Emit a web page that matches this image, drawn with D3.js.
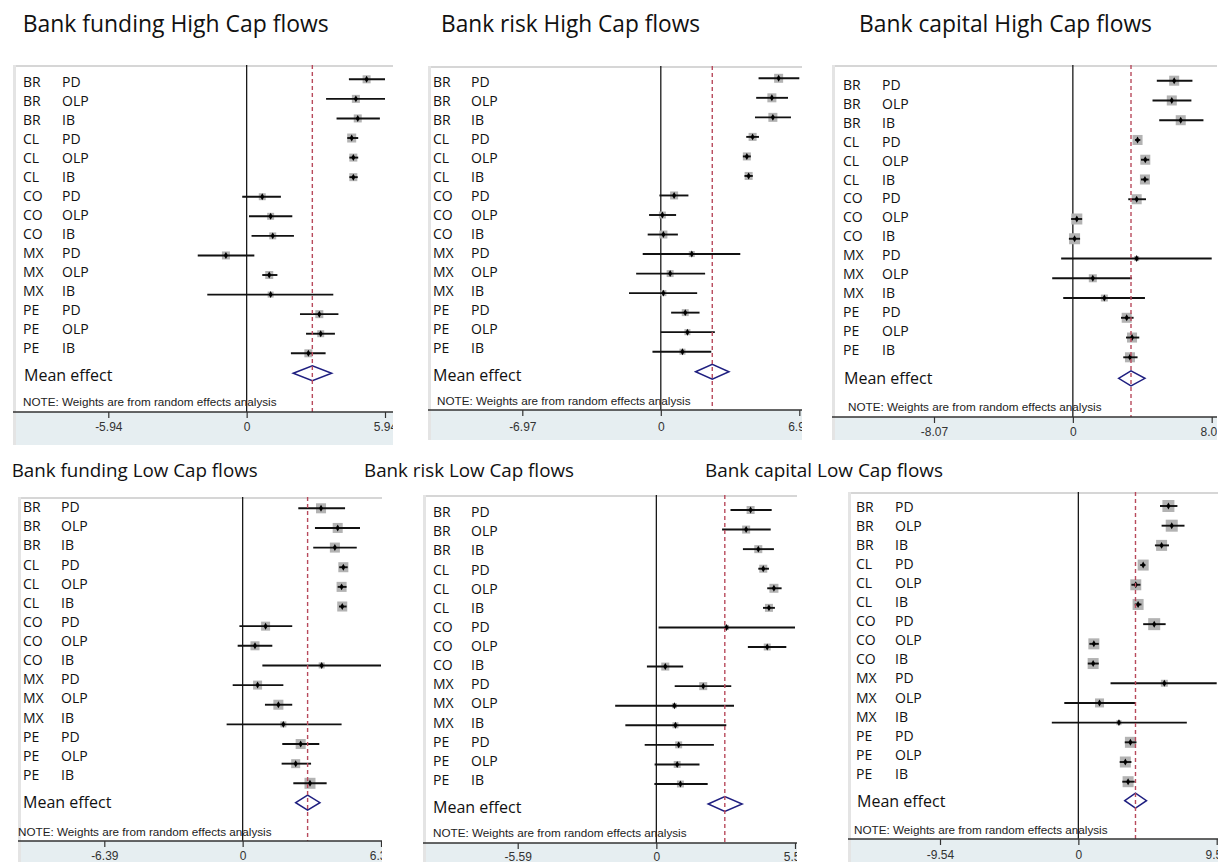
<!DOCTYPE html>
<html>
<head>
<meta charset="utf-8">
<script src="https://cdn.jsdelivr.net/npm/d3@7"></script>
<style>
  html, body { margin: 0; padding: 0; background: #ffffff; }
  svg { display: block; }
</style>
</head>
<body>
<svg id="chart" width="1218" height="862"></svg>
<script>
// ---- study rows (shared by all six forest plots) ----
const countries = ["BR","BR","BR","CL","CL","CL","CO","CO","CO","MX","MX","MX","PE","PE","PE"];
const channels  = ["PD","OLP","IB","PD","OLP","IB","PD","OLP","IB","PD","OLP","IB","PD","OLP","IB"];

const panelTitles = [
  "Bank funding High Cap flows", "Bank risk High Cap flows", "Bank capital High Cap flows",
  "Bank funding Low Cap flows", "Bank risk Low Cap flows", "Bank capital Low Cap flows"
];
const axisLimits = [5.94, 6.97, 8.07, 6.39, 5.59, 9.54];
const meanLabel = "Mean effect";
const noteText = "NOTE: Weights are from random effects analysis";

// ---- Bank funding, High Cap ----
const fundHighEst = [5.15, 4.69, 4.77, 4.51, 4.58, 4.58, 0.67, 1.03, 1.12, -0.89, 0.97, 1.03, 3.12, 3.18, 2.65];
const fundHighLo  = [4.39, 3.41, 3.86, 4.32, 4.41, 4.41, -0.19, 0.10, 0.21, -2.10, 0.67, -1.69, 2.29, 2.55, 1.90];
const fundHighHi  = [5.94, 5.94, 5.72, 4.79, 4.79, 4.77, 1.47, 1.96, 2.03, 0.33, 1.32, 3.72, 3.94, 3.79, 3.39];
const fundHighWt  = [5.3, 5.3, 5.3, 6.7, 5.3, 5.3, 4.0, 4.0, 4.0, 5.3, 5.3, 3.0, 5.3, 4.0, 5.3];
const fundHighMean = [2.00, 2.82, 3.65];

// ---- Bank risk, High Cap ----
const riskHighEst = [5.93, 5.59, 5.64, 4.62, 4.33, 4.42, 0.67, 0.08, 0.13, 1.56, 0.47, 0.13, 1.23, 1.34, 1.09];
const riskHighLo  = [4.92, 4.80, 4.74, 4.30, 4.13, 4.21, -0.07, -0.59, -0.66, -0.91, -1.24, -1.60, 0.52, 0.00, -0.42];
const riskHighHi  = [6.97, 6.40, 6.55, 4.94, 4.53, 4.63, 1.39, 0.77, 0.86, 4.00, 2.23, 1.83, 1.95, 2.72, 2.54];
const riskHighWt  = [6.7, 6.7, 6.7, 5.3, 5.3, 5.3, 5.3, 4.0, 5.3, 3.0, 4.0, 3.0, 4.0, 3.0, 3.0];
const riskHighMean = [1.75, 2.59, 3.43];

// ---- Bank capital, High Cap ----
const capHighEst = [5.89, 5.75, 6.27, 3.76, 4.21, 4.19, 3.71, 0.23, 0.10, 3.71, 1.16, 1.83, 3.13, 3.44, 3.32];
const capHighLo  = [4.88, 4.63, 5.02, 3.61, 3.96, 3.96, 3.22, -0.10, -0.23, -0.68, -1.20, -0.56, 2.80, 3.09, 2.93];
const capHighHi  = [6.95, 6.89, 7.59, 3.92, 4.44, 4.40, 4.25, 0.54, 0.42, 8.07, 3.44, 4.19, 3.53, 3.86, 3.76];
const capHighWt  = [8.3, 8.3, 8.3, 8.3, 8.3, 8.3, 8.3, 10, 10, 2.1, 5.3, 4.0, 8.3, 8.3, 8.3];
const capHighMean = [2.66, 3.38, 4.19];

// ---- Bank funding, Low Cap ----
const fundLowEst = [3.62, 4.39, 4.26, 4.65, 4.57, 4.60, 1.06, 0.57, 3.65, 0.69, 1.65, 1.88, 2.68, 2.45, 3.11];
const fundLowLo  = [2.57, 3.34, 3.26, 4.46, 4.39, 4.45, -0.15, -0.23, 0.91, -0.46, 1.03, -0.74, 1.83, 1.80, 2.34];
const fundLowHi  = [4.73, 5.42, 5.27, 4.85, 4.80, 4.80, 2.29, 1.37, 6.39, 1.88, 2.29, 4.57, 3.54, 3.16, 3.88];
const fundLowWt  = [8.3, 8.3, 8.3, 8.3, 8.3, 8.3, 6.7, 6.7, 3.0, 6.7, 8.3, 3.0, 8.3, 6.7, 10];
const fundLowMean = [2.45, 3.00, 3.57];

// ---- Bank risk, Low Cap ----
const riskLowEst = [3.80, 3.62, 4.11, 4.31, 4.74, 4.54, 2.83, 4.47, 0.36, 1.89, 0.73, 0.77, 0.90, 0.84, 0.97];
const riskLowLo  = [2.99, 2.65, 3.49, 4.11, 4.47, 4.30, 0.09, 3.69, -0.38, 0.74, -1.66, -1.25, -0.47, -0.07, -0.08];
const riskLowHi  = [4.65, 4.61, 4.74, 4.54, 5.05, 4.78, 5.59, 5.24, 1.08, 3.02, 3.13, 2.82, 2.32, 1.74, 2.07];
const riskLowWt  = [5.3, 5.3, 5.3, 5.3, 6.7, 5.3, 2.1, 4.0, 5.3, 5.3, 2.1, 3.0, 4.0, 4.0, 4.0];
const riskLowMean = [2.09, 2.76, 3.46];

// ---- Bank capital, Low Cap ----
const capLowEst = [6.21, 6.44, 5.74, 4.47, 3.96, 4.12, 5.23, 1.07, 1.02, 5.93, 1.46, 2.80, 3.59, 3.24, 3.43];
const capLowLo  = [5.63, 5.74, 5.28, 4.26, 3.66, 3.89, 4.47, 0.76, 0.65, 2.22, -0.97, -1.83, 3.20, 2.85, 3.03];
const capLowHi  = [6.83, 7.32, 6.25, 4.63, 4.28, 4.35, 6.02, 1.41, 1.41, 9.54, 3.96, 7.48, 4.01, 3.66, 3.89];
const capLowWt  = [11.9, 11.9, 10, 10, 10, 10, 11.9, 10, 10, 4.0, 6.7, 2.1, 10, 10, 10];
const capLowMean = [3.20, 3.94, 4.70];

const panelData = [
  { est: fundHighEst, lo: fundHighLo, hi: fundHighHi, wt: fundHighWt, mean: fundHighMean },
  { est: riskHighEst, lo: riskHighLo, hi: riskHighHi, wt: riskHighWt, mean: riskHighMean },
  { est: capHighEst,  lo: capHighLo,  hi: capHighHi,  wt: capHighWt,  mean: capHighMean },
  { est: fundLowEst,  lo: fundLowLo,  hi: fundLowHi,  wt: fundLowWt,  mean: fundLowMean },
  { est: riskLowEst,  lo: riskLowLo,  hi: riskLowHi,  wt: riskLowWt,  mean: riskLowMean },
  { est: capLowEst,   lo: capLowLo,   hi: capLowHi,   wt: capLowWt,   mean: capLowMean }
];

// ---- page geometry of each plot ----
const layout = [
  { left: 13,  right: 393,  top: 65,  axisY: 412, bottom: 445, xr: [108.3, 385],   mark: [79.3, 353.3], lab: [81.7, 348.3], meanY: 373.3, meanLabY: 375,   cx: 23,  tx: 62,  mx: 24,  noteX: 23,  noteY: 406, tickY: 431, titleX: 22.7, titleY: 32,  titleW: 306, titleSize: 23 },
  { left: 428, right: 802,  top: 66,  axisY: 410, bottom: 440, xr: [522.3, 799.3], mark: [78.3, 351.7], lab: [82.3, 348.3], meanY: 371.7, meanLabY: 375,   cx: 433, tx: 471, mx: 433, noteX: 437, noteY: 405, tickY: 431, titleX: 441,  titleY: 32,  titleW: 259, titleSize: 23 },
  { left: 832, right: 1217, top: 65,  axisY: 417, bottom: 440, xr: [934, 1211.7],  mark: [80.7, 357.3], lab: [85, 350],     meanY: 378.3, meanLabY: 378,   cx: 843, tx: 882, mx: 844, noteX: 848, noteY: 411, tickY: 436, titleX: 859,  titleY: 32,  titleW: 293, titleSize: 23 },
  { left: 18,  right: 382,  top: 497, axisY: 841, bottom: 862, xr: [104.3, 381],   mark: [508.3, 783.3], lab: [507.3, 775], meanY: 802.7, meanLabY: 802,   cx: 23,  tx: 61,  mx: 23,  noteX: 18,  noteY: 836, tickY: 860, titleX: 11.7, titleY: 477, titleW: 246, titleSize: 19 },
  { left: 423, right: 797,  top: 495, axisY: 843, bottom: 862, xr: [517.7, 795],   mark: [510, 784],     lab: [512.3, 780], meanY: 804,   meanLabY: 807,   cx: 433, tx: 471, mx: 433, noteX: 433, noteY: 837, tickY: 860.5, titleX: 364,  titleY: 477, titleW: 210, titleSize: 19 },
  { left: 848, right: 1218, top: 492, axisY: 839, bottom: 862, xr: [940, 1216.7],  mark: [506, 781.7],   lab: [506.7, 774], meanY: 800.7, meanLabY: 801.7, cx: 856, tx: 895, mx: 857, noteX: 854, noteY: 834, tickY: 859, titleX: 705,  titleY: 477, titleW: 238, titleSize: 19 }
];

const svg = d3.select("#chart");
const defs = svg.append("defs");
const blur = defs.append("filter").attr("id", "soft").attr("x", "-30%").attr("y", "-30%").attr("width", "160%").attr("height", "160%");
blur.append("feGaussianBlur").attr("stdDeviation", 0.6);

const boxSize = d3.scaleSqrt().domain([0, 10]).range([0, 11]);
const textFont = "'Open Sans', 'Noto Sans', sans-serif";
const axisFont = "'Liberation Sans', Arial, sans-serif";
const tickFmt = d3.format(".2f");

panelTitles.forEach((title, p) => {
  const L = layout[p];
  const D = panelData[p];
  const m = axisLimits[p];

  // plot title
  svg.append("text")
    .attr("x", L.titleX).attr("y", L.titleY)
    .attr("font-family", textFont).attr("font-size", L.titleSize)
    .attr("fill", "#111")
    .attr("textLength", L.titleW).attr("lengthAdjust", "spacingAndGlyphs")
    .text(title);

  const clipId = "clip" + p;
  defs.append("clipPath").attr("id", clipId)
    .append("rect")
    .attr("x", L.left).attr("y", L.top - 2)
    .attr("width", L.right - L.left).attr("height", L.bottom - L.top + 2);

  const g = svg.append("g").attr("clip-path", `url(#${clipId})`);

  const x = d3.scaleLinear().domain([-m, m]).range(L.xr);
  const yMark = d3.scaleLinear().domain([0, countries.length - 1]).range(L.mark);
  const yLab = d3.scaleLinear().domain([0, countries.length - 1]).range(L.lab);

  // plot region and the shaded strip under the axis
  g.append("rect").attr("x", L.left).attr("y", L.top)
    .attr("width", L.right - L.left).attr("height", L.axisY - L.top).attr("fill", "#ffffff");
  g.append("rect").attr("x", L.left).attr("y", L.axisY)
    .attr("width", L.right - L.left).attr("height", L.bottom - L.axisY).attr("fill", "#e6eef1");
  g.append("line").attr("x1", L.left).attr("x2", L.right).attr("y1", L.top + 1).attr("y2", L.top + 1)
    .attr("stroke", "#d6d6d6").attr("stroke-width", 2);
  g.append("line").attr("x1", L.left + 1.5).attr("x2", L.left + 1.5).attr("y1", L.top).attr("y2", L.bottom)
    .attr("stroke", "#e4e4e4").attr("stroke-width", 3);

  // no-effect line
  g.append("line")
    .attr("x1", x(0)).attr("x2", x(0)).attr("y1", L.top).attr("y2", L.axisY)
    .attr("stroke", "#1a1a1a").attr("stroke-width", 1.3);

  // weight boxes
  g.append("g").attr("filter", "url(#soft)")
    .selectAll("rect").data(D.est).join("rect")
    .attr("x", (d, i) => x(d) - boxSize(D.wt[i]) / 2)
    .attr("y", (d, i) => yMark(i) - boxSize(D.wt[i]) / 2)
    .attr("width", (d, i) => boxSize(D.wt[i]))
    .attr("height", (d, i) => boxSize(D.wt[i]))
    .attr("fill", "#b3b3b3");

  // confidence intervals
  g.append("g").selectAll("line").data(D.est).join("line")
    .attr("x1", (d, i) => x(Math.max(-m, D.lo[i])))
    .attr("x2", (d, i) => x(Math.min(m, D.hi[i])))
    .attr("y1", (d, i) => yMark(i)).attr("y2", (d, i) => yMark(i))
    .attr("stroke", "#111").attr("stroke-width", 1.9);

  // point estimates
  g.append("g").selectAll("path").data(D.est).join("path")
    .attr("d", d3.symbol(d3.symbolDiamond, 14))
    .attr("transform", (d, i) => `translate(${x(d)},${yMark(i)})`)
    .attr("fill", "#000");

  // pooled (mean) effect diamond
  const [mlo, mest, mhi] = D.mean;
  g.append("path")
    .attr("d", `M${x(mlo)},${L.meanY} L${x(mest)},${L.meanY - 7.5} L${x(mhi)},${L.meanY} L${x(mest)},${L.meanY + 7.5} Z`)
    .attr("fill", "none").attr("stroke", "#1f1f80").attr("stroke-width", 1.5);

  // pooled effect reference line
  g.append("line")
    .attr("x1", x(mest)).attr("x2", x(mest)).attr("y1", L.top).attr("y2", L.axisY)
    .attr("stroke", "#b84a5c").attr("stroke-width", 1.4).attr("stroke-dasharray", "4,3");

  // row labels
  const labels = g.append("g").attr("font-family", textFont).attr("font-size", 14).attr("fill", "#111");
  labels.selectAll("text.ctry").data(countries).join("text").attr("class", "ctry")
    .attr("x", L.cx).attr("y", (d, i) => yLab(i)).attr("dy", "0.35em").text(d => d);
  labels.selectAll("text.chan").data(channels).join("text").attr("class", "chan")
    .attr("x", L.tx).attr("y", (d, i) => yLab(i)).attr("dy", "0.35em").text(d => d);

  g.append("text")
    .attr("x", L.mx).attr("y", L.meanLabY).attr("dy", "0.35em")
    .attr("font-family", textFont).attr("font-size", 16).attr("fill", "#111")
    .text(meanLabel);

  g.append("text")
    .attr("x", L.noteX).attr("y", L.noteY)
    .attr("font-family", axisFont).attr("font-size", 11.7).attr("fill", "#222")
    .text(noteText);

  // x axis: limits and zero, written with a plain hyphen for negatives
  const axis = d3.axisBottom(x).tickValues([-m, 0, m]).tickSize(6).tickPadding(3)
    .tickFormat(v => v === 0 ? "0" : tickFmt(v).replace("\u2212", "-"));
  const ax = g.append("g").attr("transform", `translate(0,${L.axisY})`).call(axis);
  ax.select(".domain").remove();
  ax.append("line").attr("x1", L.left).attr("x2", L.right).attr("y1", 0).attr("y2", 0)
    .attr("stroke", "#333").attr("stroke-width", 1.3);
  ax.selectAll(".tick line").attr("stroke", "#333").attr("stroke-width", 1.2);
  ax.selectAll(".tick text")
    .attr("font-family", axisFont).attr("font-size", 12).attr("fill", "#333")
    .attr("y", L.tickY - L.axisY).attr("dy", 0);
});
</script>
</body>
</html>
